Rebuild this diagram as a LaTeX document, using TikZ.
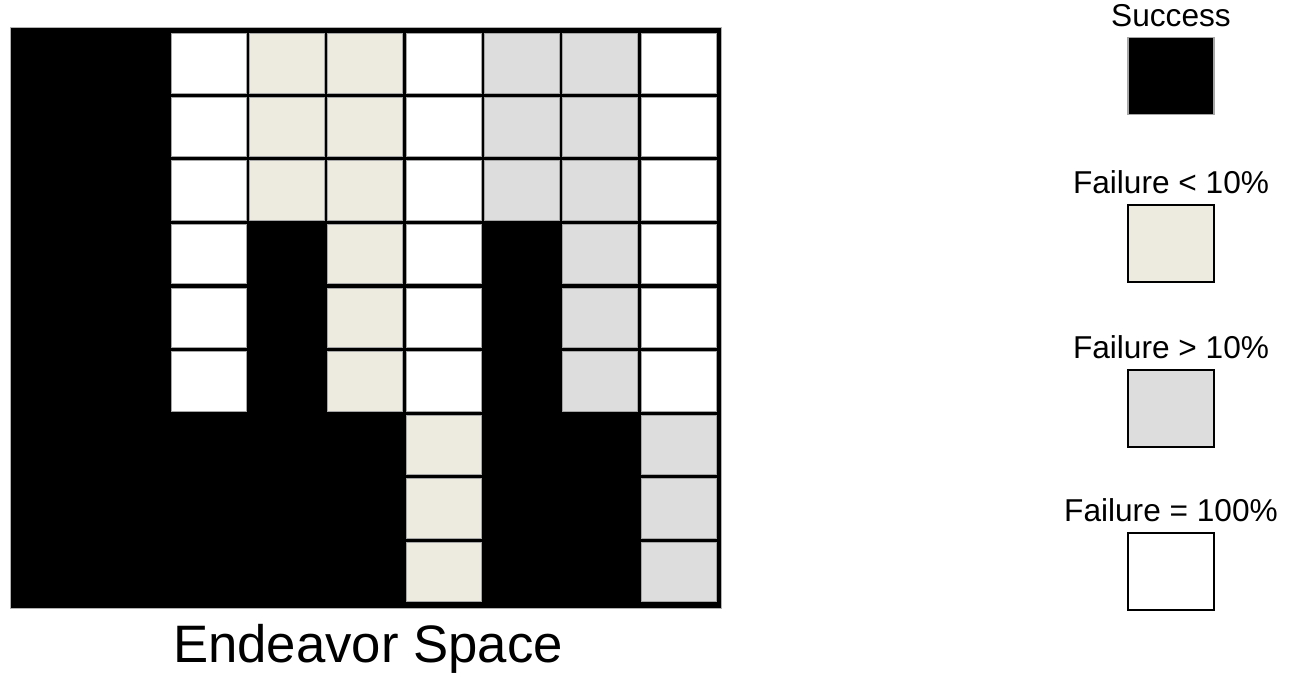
\documentclass[tikz,border=0pt]{standalone}
\usepackage{fontspec}
\setmainfont{Liberation Sans}
\usetikzlibrary{positioning}

\definecolor{lowfail}{HTML}{EDEBE0}
\definecolor{highfail}{HTML}{DDDDDD}

\tikzset{
    succ/.style={fill=black},
    low/.style={fill=lowfail, draw=gray!70, line width=0.4pt},
    high/.style={fill=highfail, draw=gray!70, line width=0.4pt},
    full/.style={fill=white, draw=gray!70, line width=0.4pt},
    keybox/.style={draw=black, line width=0.85pt, inner sep=0pt,
        minimum width=1.72cm, minimum height=1.54cm},
    keylabel/.style={inner sep=0pt, font=\fontsize{18}{20}\selectfont},
}

\begin{document}
\begin{tikzpicture}[x=0.02cm, y=-0.02cm]
    \useasboundingbox (0,0) rectangle (1289,682);

    % black frame of the endeavor space
    \fill[black, draw=gray!60, line width=0.5pt] (10,27) rectangle (721,608);

    % 9 x 9 cells, one row of styles per line
    \foreach \row [count=\r from 0] in {
        {succ,succ,full,low,low,full,high,high,full},
        {succ,succ,full,low,low,full,high,high,full},
        {succ,succ,full,low,low,full,high,high,full},
        {succ,succ,full,succ,low,full,succ,high,full},
        {succ,succ,full,succ,low,full,succ,high,full},
        {succ,succ,full,succ,low,full,succ,high,full},
        {succ,succ,succ,succ,succ,low,succ,succ,high},
        {succ,succ,succ,succ,succ,low,succ,succ,high},
        {succ,succ,succ,succ,succ,low,succ,succ,high}} {
        \foreach \c [count=\k from 0] in \row {
            \pgfmathsetmacro{\x}{14.5+\k*78.3}   % left edge
            \pgfmathsetmacro{\y}{33.5+\r*63.6}   % top edge
            \path[\c] (\x,\y) rectangle ++(75,59.5);
        }
    }

    \node[anchor=base, font=\fontsize{30}{33}\selectfont] (space) at (368,662) {Endeavor Space};

    % legend
    \node[keybox, fill=black, draw=gray!70] (succbox) at (1171,76) {};
    \node[keybox, fill=lowfail] (lowbox) at (1171,243.5) {};
    \node[keybox, fill=highfail] (highbox) at (1171,408.5) {};
    \node[keybox, fill=white] (fullbox) at (1171,571.5) {};

    \node[keylabel, above=0.2cm of succbox] (succlabel) {Success};
    \node[keylabel, above=0.2cm of lowbox] (lowlabel) {Failure < 10\%};
    \node[keylabel, above=0.2cm of highbox] (highlabel) {Failure > 10\%};
    \node[keylabel, above=0.2cm of fullbox] (fulllabel) {Failure = 100\%};
\end{tikzpicture}
\end{document}
